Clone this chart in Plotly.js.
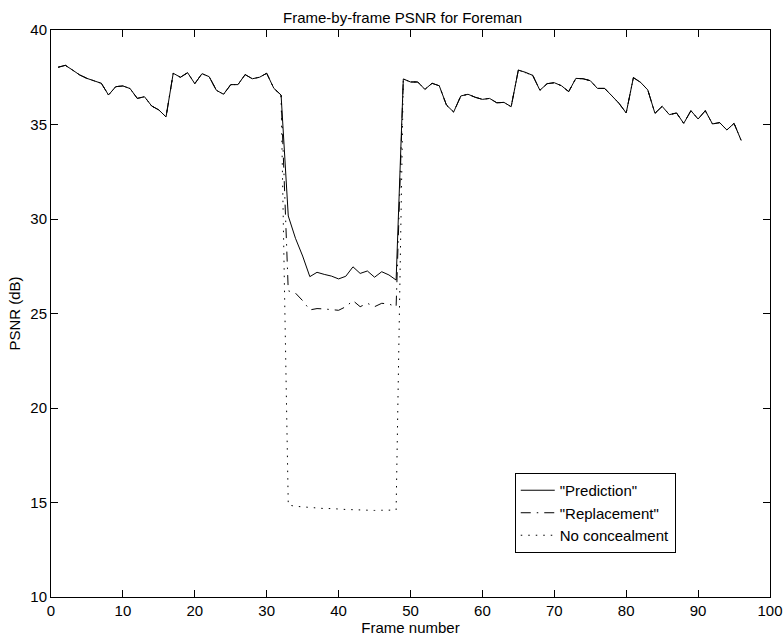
<!DOCTYPE html>
<html>
<head>
<meta charset="utf-8">
<script src="https://cdn.plot.ly/plotly-3.0.1.min.js"></script>
<style>
  html, body { margin: 0; padding: 0; background: #fff; }
  #chart { width: 783px; height: 640px; }
</style>
</head>
<body>
<div id="chart"></div>
<script>
// Frame numbers
const frames = [1,2,3,4,5,6,7,8,9,10,11,12,13,14,15,16,17,18,19,20,21,22,23,24,25,26,27,28,29,30,31,32,
  33,34,35,36,37,38,39,40,41,42,43,44,45,46,47,48,
  49,50,51,52,53,54,55,56,57,58,59,60,61,62,63,64,65,66,67,68,69,70,71,72,
  73,74,75,76,77,78,79,80,81,82,83,84,85,86,87,88,89,90,91,92,93,94,95,96];

// Frames 1-32: identical for all three methods (no loss yet)
const psnrBeforeLoss = [38.03,38.13,37.88,37.62,37.44,37.30,37.18,36.56,37.00,37.04,36.90,36.38,
  36.47,35.98,35.77,35.40,37.71,37.50,37.74,37.16,37.69,37.53,36.81,36.60,37.11,37.11,37.64,37.42,
  37.50,37.71,36.91,36.56];

// Frames 33-48: during the loss
const predictionLoss = [30.16,28.98,28.04,26.95,27.18,27.07,26.98,26.83,26.97,27.47,27.12,27.25,26.92,27.21,27.04,26.77];
const replacementLoss = [26.20,26.08,25.68,25.19,25.26,25.24,25.20,25.17,25.36,25.68,25.36,25.54,25.36,25.54,25.50,25.36];
const noConcealLoss = [14.87,14.80,14.77,14.72,14.71,14.68,14.68,14.64,14.63,14.62,14.60,14.60,14.58,14.59,14.58,14.60];

// Frames 49-96: identical for all three methods (after recovery)
const psnrAfterLoss = [37.41,37.25,37.25,36.86,37.18,37.05,36.03,35.66,36.51,36.60,36.44,36.33,
  36.38,36.15,36.17,35.94,37.88,37.76,37.60,36.81,37.16,37.21,37.05,36.74,37.44,37.42,37.32,36.91,
  36.91,36.52,36.12,35.61,37.48,37.23,36.83,35.59,35.96,35.52,35.61,35.06,35.73,35.29,35.73,35.03,
  35.10,34.71,35.06,34.15];

const seriesNames = ['"Prediction"', '"Replacement"', 'No concealment'];

const prediction = psnrBeforeLoss.concat(predictionLoss, psnrAfterLoss);
const replacement = psnrBeforeLoss.concat(replacementLoss, psnrAfterLoss);
const noConceal = psnrBeforeLoss.concat(noConcealLoss, psnrAfterLoss);

const font = 'Liberation Sans, Arial, Helvetica, sans-serif';

const traces = [
  {x: frames, y: prediction, name: seriesNames[0], mode: 'lines',
   line: {color: '#000', width: 1, dash: 'solid'}},
  {x: frames, y: replacement, name: seriesNames[1], mode: 'lines',
   line: {color: '#000', width: 1, dash: '10px,6px,1.5px,6px'}},
  {x: frames, y: noConceal, name: seriesNames[2], mode: 'lines',
   line: {color: '#000', width: 1, dash: '1.5px,6px'}}
];
// draw solid last so it sits on top where the lines coincide
const ordered = [traces[2], traces[1], traces[0]];

const layout = {
  width: 783, height: 640,
  margin: {l: 51, r: 13, t: 30, b: 43, pad: 0},
  paper_bgcolor: '#fff', plot_bgcolor: '#fff',
  font: {family: font, size: 15, color: '#000'},
  title: {text: 'Frame-by-frame PSNR for Foreman', font: {family: font, size: 15, color: '#000'},
          x: 0.489, xref: 'paper', xanchor: 'center', y: 0.973, yref: 'container', yanchor: 'middle'},
  showlegend: true,
  legend: {x: 0.645, y: 0.2187, xanchor: 'left', yanchor: 'top', traceorder: 'reversed',
           bgcolor: '#fff', bordercolor: '#000', borderwidth: 1, itemwidth: 34,
           font: {family: font, size: 15, color: '#000'}, tracegroupgap: 0},
  xaxis: {range: [0, 100], tickvals: [0,10,20,30,40,50,60,70,80,90,100],
          ticks: 'inside', ticklen: 7, tickcolor: '#000', tickwidth: 1,
          showline: true, linecolor: '#000', linewidth: 1, mirror: 'ticks',
          showgrid: false, zeroline: false,
          tickfont: {family: font, size: 15, color: '#000'},
          title: {text: 'Frame number', font: {family: font, size: 15, color: '#000'}, standoff: 2}},
  yaxis: {range: [10, 40], tickvals: [10,15,20,25,30,35,40],
          ticks: 'inside', ticklen: 7, tickcolor: '#000', tickwidth: 1,
          showline: true, linecolor: '#000', linewidth: 1, mirror: 'ticks',
          showgrid: false, zeroline: false,
          tickfont: {family: font, size: 15, color: '#000'},
          title: {text: 'PSNR (dB)', font: {family: font, size: 15, color: '#000'}, standoff: 6}}
};

Plotly.newPlot('chart', ordered, layout, {displayModeBar: false, staticPlot: true});
</script>
</body>
</html>
